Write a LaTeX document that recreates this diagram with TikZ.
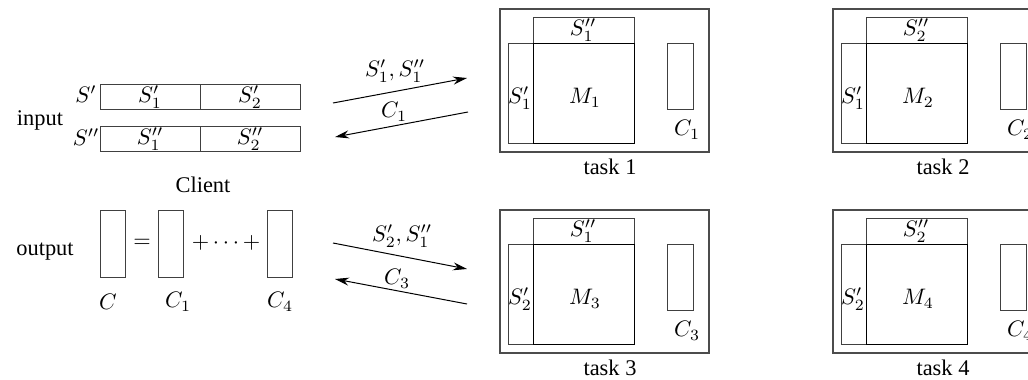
\documentclass[tikz,border=0pt]{standalone}
\usepackage{fix-cm}
\usepackage{fontspec}
\setmainfont{Liberation Serif}
\usetikzlibrary{arrows.meta}
\tikzset{
	frame/.style={draw=black!70, line width=0.7pt},
	cell/.style={draw=black!75, line width=0.5pt},
	msg/.style={-{Stealth[length=7pt, width=4pt]}, line width=0.5pt},
}
\def\taskbox(#1,#2)#3#4#5{%
	\begin{scope}[shift={(#1,#2)}]
		\draw[frame] (500, 9) rectangle (709, 152);
		\draw[cell] (533, 17) rectangle (634, 43);
		\draw[cell] (508, 43) rectangle (533, 143);
		\draw[cell, draw=black] (533, 43) rectangle (634, 143);
		\draw[cell] (667, 43) rectangle (693, 109);
		\node (Sb#3) at (583, 30) {$S''_{#5}$};
		\node (Sa#3) at (520, 98) {$S'_{#4}$};
		\node (M#3) at (585, 98) {$M_{#3}$};
		\node (C#3) at (687, 130) {$C_{#3}$};
		\node (task#3) at (610, 167) {task #3};
	\end{scope}}

\begin{document}
\begin{tikzpicture}[x=0.5pt, y=-0.5pt, font=\fontsize{11.2}{13.5}\selectfont]
			%%%%% START %%%%%
			\useasboundingbox (0, 0) rectangle (1028, 380);
			\clip (0, 0) rectangle (1028, 380);
			
			% client, input
			\node (input) at (40, 120) {input};
			\draw[cell] (100, 84) rectangle (300, 109);
			\draw[cell] (200, 84) -- (200, 109);
			\draw[cell] (100, 126) rectangle (300, 151);
			\draw[cell] (200, 126) -- (200, 151);
			\node (Sa) at (86, 94) {$S'$};
			\node (Sb) at (86, 137) {$S''$};
			\node (Sa1) at (150, 97) {$S'_1$};
			\node (Sa2) at (250, 97) {$S'_2$};
			\node (Sb1) at (150, 139) {$S''_1$};
			\node (Sb2) at (250, 139) {$S''_2$};
			\node (client) at (203, 185) {Client};
			
			% client, output
			\node (output) at (45, 252) {output};
			\draw[cell] (100, 210) rectangle (125, 277);
			\draw[cell] (158, 210) rectangle (183, 277);
			\draw[cell] (267, 210) rectangle (292, 277);
			\node (eq) at (142, 243) {$=$};
			\node (sum) at (226, 243) {$+\cdots+$};
			\node (C) at (108, 302) {$C$};
			\node (Cc1) at (178, 302) {$C_1$};
			\node (Cc4) at (280, 302) {$C_4$};
			
			% messages
			\coordinate (a1) at (333, 103);
			\coordinate (b1) at (467, 78);
			\coordinate (a2) at (468, 112);
			\coordinate (b2) at (335, 137);
			\draw[msg] (a1) -- (b1);
			\draw[msg] (a2) -- (b2);
			\node (m1) at (395, 71) {$S'_1, S''_1$};
			\node (m2) at (394, 112) {$C_1$};
			
			\coordinate (a3) at (333, 243);
			\coordinate (b3) at (467, 269);
			\coordinate (a4) at (467, 304);
			\coordinate (b4) at (335, 279);
			\draw[msg] (a3) -- (b3);
			\draw[msg] (a4) -- (b4);
			\node (m3) at (402, 236) {$S'_2, S''_1$};
			\node (m4) at (397, 279) {$C_3$};
			
			% tasks
			\taskbox(0,0){1}{1}{1}
			\taskbox(333,0){2}{1}{2}
			\taskbox(0,201){3}{2}{1}
			\taskbox(333,201){4}{2}{2}
			
			%%%%% END %%%%%
\end{tikzpicture}
\end{document}
